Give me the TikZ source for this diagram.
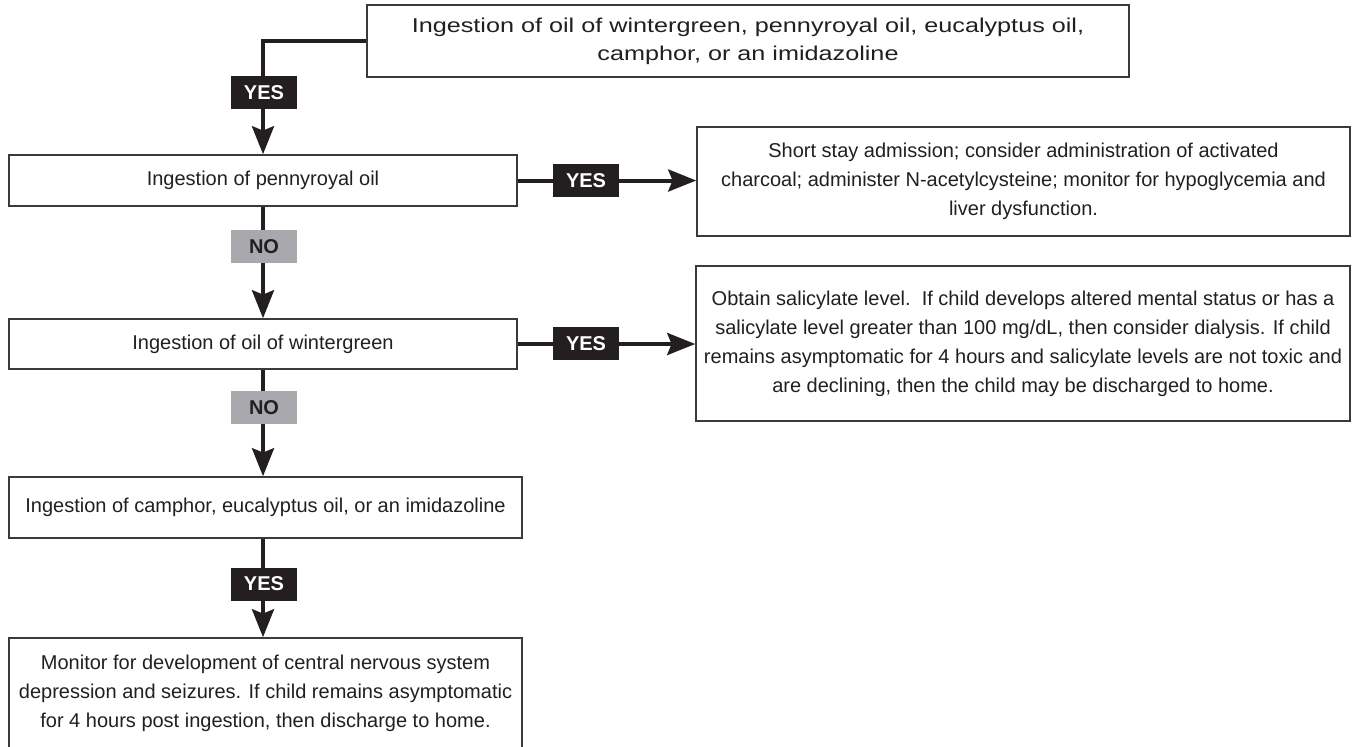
\documentclass[tikz,border=0pt]{standalone}
\usepackage{fontspec}
\setmainfont{Liberation Sans}
\usetikzlibrary{arrows.meta}
\definecolor{ink}{HTML}{231F20}
\definecolor{frame}{HTML}{3A3A3A}
\definecolor{nogray}{HTML}{A7A9AC}
% wide-set lines of the entry box
\newcommand{\wideline}[1]{\scalebox{1.26}[1]{#1}}
\begin{document}
\begin{tikzpicture}[x=0.5pt,y=-0.5pt,
  box/.style={draw=frame,line width=0.8pt,fill=white,rectangle,inner sep=0pt,
    align=center,font=\fontsize{10}{14.5}\selectfont,text=ink},
  conn/.style={draw=ink,line width=2pt},
  arr/.style={conn,-{Stealth[length=14pt,width=11pt,inset=2.2pt]}},
  yeslbl/.style={fill=ink,text=white,font=\fontsize{10}{12}\bfseries,
    minimum width=33pt,minimum height=16.5pt,inner sep=0pt},
  nolbl/.style={fill=nogray,text=ink,font=\fontsize{10}{12}\bfseries,
    minimum width=33pt,minimum height=16.5pt,inner sep=0pt}]
\useasboundingbox (0,0) rectangle (1352,746);

% decision and action boxes
\node[box,minimum width=381pt,minimum height=36pt,font=\fontsize{10}{14}\selectfont] (top) at (748,41)
  {\wideline{Ingestion of oil of wintergreen, pennyroyal oil, eucalyptus oil,}\\
   \wideline{camphor, or an imidazoline}};
\node[box,minimum width=254pt,minimum height=25.5pt] (penny) at (263,180.5)
  {Ingestion of pennyroyal oil};
\node[box,minimum width=254pt,minimum height=25pt] (winter) at (263,344)
  {Ingestion of oil of wintergreen};
\node[box,minimum width=256.5pt,minimum height=30.5pt] (camph) at (265.5,507.5)
  {Ingestion of camphor, eucalyptus oil, or an imidazoline};
\node[box,minimum width=256.5pt,minimum height=55pt] (monitor) at (265.5,693)
  {Monitor for development of central nervous system\\
   depression and seizures. If child remains asymptomatic\\
   for 4 hours post ingestion, then discharge to home.};
\node[box,minimum width=326.5pt,minimum height=54.5pt] (shortstay) at (1023.5,181.5)
  {Short stay admission; consider administration of activated\\
   charcoal; administer N-acetylcysteine; monitor for hypoglycemia and\\
   liver dysfunction.};
\node[box,minimum width=327pt,minimum height=77.5pt] (salic) at (1023,343.5)
  {Obtain salicylate level.\ \ If child develops altered mental status or has a\\
   salicylate level greater than 100 mg/dL, then consider dialysis. If child\\
   remains asymptomatic for 4 hours and salicylate levels are not toxic and\\
   are declining, then the child may be discharged to home.};

% connectors
\draw[arr] (top.west) -| (penny.north);
\draw[arr] (penny.east) -- (shortstay.west |- penny.east);
\draw[arr] (penny.south) -- (winter.north);
\draw[arr] (winter.east) -- (salic.west |- winter.east);
\draw[arr] (winter.south) -- (camph.north -| winter.south);
\draw[arr] (camph.south -| winter.south) -- (monitor.north -| winter.south);

% branch labels
\node[yeslbl] (l1) at (264,92.5) {YES};
\node[yeslbl] (l2) at (586,180.5) {YES};
\node[nolbl]  (l3) at (264,246.5) {NO};
\node[yeslbl] (l4) at (586,343.5) {YES};
\node[nolbl]  (l5) at (264,407.5) {NO};
\node[yeslbl] (l6) at (264,584) {YES};
\end{tikzpicture}
\end{document}
